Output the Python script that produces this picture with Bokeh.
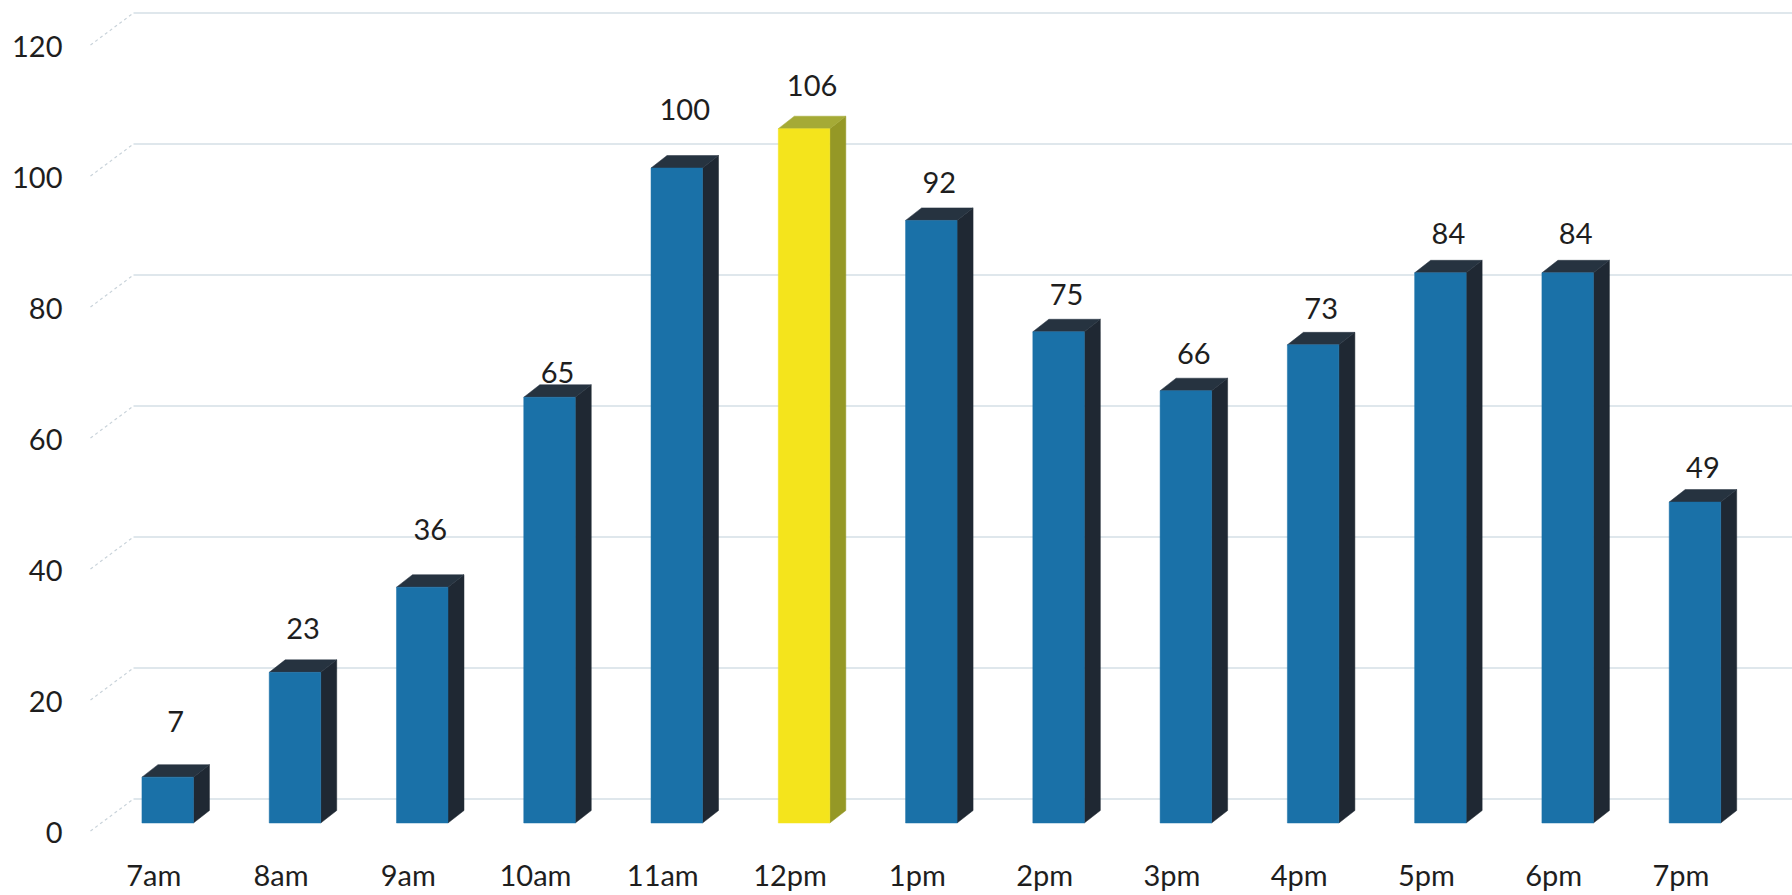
from bokeh.plotting import figure
from bokeh.models import Range1d, LinearAxis, FixedTicker, ColumnDataSource
from bokeh.core.properties import value
from bokeh.embed import file_html
from bokeh.resources import INLINE

# ---- data -------------------------------------------------------------
hours = ["7am", "8am", "9am", "10am", "11am", "12pm", "1pm",
         "2pm", "3pm", "4pm", "5pm", "6pm", "7pm"]
counts = [7, 23, 36, 65, 100, 106, 92, 75, 66, 73, 84, 84, 49]
highlight = "12pm"
y_ticks = [0, 20, 40, 60, 80, 100, 120]

# ---- layout (pixels) --------------------------------------------------
W, H = 1792, 895
FRAME_L, FRAME_B = 75, 845          # frame left edge / bottom edge
BASE_PX = 822.5                      # screen y of the value 0 on the bar fronts
PX_PER_UNIT = 6.55                   # vertical pixels per count
X0_PX, STEP_PX = 167.2, 127.27       # centre of first bar front, bar spacing
BAR_W_PX = 51.5
DEPTH_X_PX, DEPTH_Y_PX = 16.0, 12.5  # bar depth projection
WALL_DY_PX = 24.0                    # back wall lies this far above the bar fronts
WALL_X_PX = 133.0                    # left edge of the back wall
SIDE_X_PX, SIDE_DY_PX = 90.0, 32.0   # front end of the side-wall lines
LABEL_GAP_PX = [43, 31, 45, 12, 46, 31, 25, 25, 25, 24, 27, 27, 22]

FONT = "Lato"
FONT_SIZE = "29px"
TEXT_COLOR = "#1e1e1e"

# data ranges derived from the pixel layout
y_lo = -(FRAME_B - BASE_PX) / PX_PER_UNIT
y_hi = BASE_PX / PX_PER_UNIT
x_lo = (FRAME_L - X0_PX) / STEP_PX
x_hi = (W - X0_PX) / STEP_PX

bw = BAR_W_PX / STEP_PX
ddx = DEPTH_X_PX / STEP_PX
ddy = DEPTH_Y_PX / PX_PER_UNIT
wall_dy = WALL_DY_PX / PX_PER_UNIT
wall_x = (WALL_X_PX - X0_PX) / STEP_PX
side_x = (SIDE_X_PX - X0_PX) / STEP_PX
side_dy = SIDE_DY_PX / PX_PER_UNIT

p = figure(width=W, height=H, output_backend="svg", toolbar_location=None,
           x_range=Range1d(x_lo, x_hi), y_range=Range1d(y_lo, y_hi),
           min_border_left=FRAME_L, min_border_right=0, min_border_top=0,
           min_border_bottom=H - FRAME_B, x_axis_type=None, y_axis_type=None)
p.outline_line_color = None
p.background_fill_color = "white"
p.border_fill_color = "white"
p.xgrid.visible = False
p.ygrid.visible = False

# ---- back wall gridlines and side-wall diagonals ---------------------
grid_y = [t + wall_dy for t in y_ticks]
p.segment(x0=[wall_x] * len(y_ticks), x1=[x_hi] * len(y_ticks),
          y0=grid_y, y1=grid_y, line_color="#c0cfda", line_width=1.2)
p.segment(x0=[side_x] * len(y_ticks), x1=[wall_x] * len(y_ticks),
          y0=[t + wall_dy - side_dy for t in y_ticks], y1=grid_y,
          line_color="#c9d3da", line_width=1.2, line_dash="3 3")

# ---- 3-D columns ------------------------------------------------------
xs = list(range(len(hours)))
front_col, side_col, top_col = [], [], []
for h in hours:
    if h == highlight:
        front_col.append("#f4e41c"); side_col.append("#959826"); top_col.append("#a5aa36")
    else:
        front_col.append("#1a71a8"); side_col.append("#1f2833"); top_col.append("#263340")

side_xs, side_ys, top_xs, top_ys = [], [], [], []
for x, v in zip(xs, counts):
    r = x + bw / 2
    l = x - bw / 2
    side_xs.append([r, r + ddx, r + ddx, r])
    side_ys.append([0, ddy, v + ddy, v])
    top_xs.append([l, l + ddx, r + ddx, r])
    top_ys.append([v, v + ddy, v + ddy, v])

p.patches(xs=side_xs, ys=side_ys, fill_color=side_col, line_color=side_col,
          line_width=0.5)
p.patches(xs=top_xs, ys=top_ys, fill_color=top_col, line_color=top_col,
          line_width=0.5)
p.quad(left=[x - bw / 2 for x in xs], right=[x + bw / 2 for x in xs],
       bottom=0, top=counts, fill_color=front_col, line_color=front_col,
       line_width=0.5)

# ---- value labels -----------------------------------------------------
lab = ColumnDataSource(dict(
    x=[x + ddx / 2 for x in xs],
    y=[v + ddy + g / PX_PER_UNIT for v, g in zip(counts, LABEL_GAP_PX)],
    t=[str(v) for v in counts]))
p.text(x="x", y="y", text="t", source=lab, text_align="center",
       text_baseline="middle", text_font=value(FONT), text_font_size=FONT_SIZE,
       text_color=TEXT_COLOR)

# ---- axes (labels only) ----------------------------------------------
# y labels sit a little below the bar-front scale; x labels a little left
p.extra_y_ranges = {"ylab": Range1d(y_lo + 9.5 / PX_PER_UNIT, y_hi + 9.5 / PX_PER_UNIT)}
p.extra_x_ranges = {"xlab": Range1d(x_lo + 14 / STEP_PX, x_hi + 14 / STEP_PX)}

yax = LinearAxis(y_range_name="ylab", ticker=FixedTicker(ticks=y_ticks))
xax = LinearAxis(x_range_name="xlab", ticker=FixedTicker(ticks=xs),
                 major_label_overrides={i: h for i, h in enumerate(hours)})
for ax, standoff in ((yax, 13), (xax, 11)):
    ax.axis_line_color = None
    ax.major_tick_line_color = None
    ax.minor_tick_line_color = None
    ax.major_tick_out = 0
    ax.major_tick_in = 0
    ax.major_label_standoff = standoff
    ax.major_label_text_font = FONT
    ax.major_label_text_font_size = FONT_SIZE
    ax.major_label_text_color = TEXT_COLOR
p.add_layout(yax, "left")
p.add_layout(xax, "below")

open("out.html", "w").write(file_html(p, INLINE))
